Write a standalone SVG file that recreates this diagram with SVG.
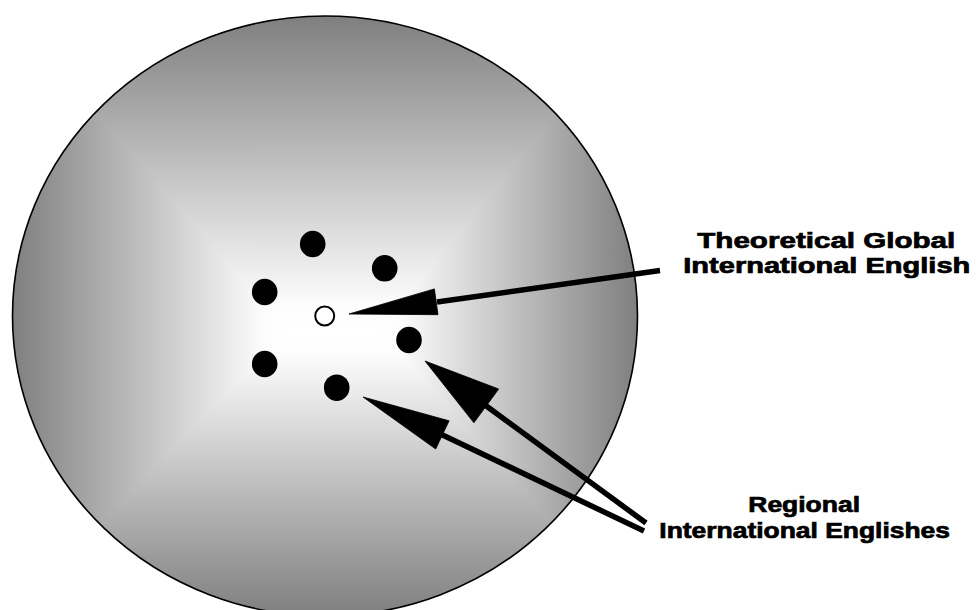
<svg xmlns="http://www.w3.org/2000/svg" width="976" height="610" viewBox="0 0 976 610">
  <style>
    .dot { fill: #000; }
    .shaft { stroke: #000; stroke-width: 5.5; fill: none; stroke-linecap: butt; }
    .head { fill: #000; stroke: #000; stroke-width: 0.8; stroke-linejoin: miter; }
    .lbl { font-family: "Liberation Sans", Arial, Helvetica, sans-serif; font-weight: bold; font-size: 21.5px; fill: #000; stroke: #000; stroke-width: 0.7; }
    .facet { stroke-width: 0.9; stroke-linejoin: round; }
  </style>
  <defs>
    <clipPath id="ellClip">
      <ellipse cx="325" cy="316" rx="312.5" ry="300"/>
    </clipPath>
    <radialGradient id="gBase" gradientUnits="userSpaceOnUse" cx="330" cy="331" r="310">
      <stop offset="0" stop-color="#ffffff"/>
      <stop offset="1" stop-color="#8a8a8a"/>
    </radialGradient>
    <linearGradient id="gTop" gradientUnits="userSpaceOnUse" x1="0" y1="331" x2="0" y2="16">
      <stop offset="0" stop-color="#ffffff"/>
      <stop offset="0.08" stop-color="#fdfdfd"/>
      <stop offset="1" stop-color="#7f7f7f"/>
    </linearGradient>
    <linearGradient id="gBottom" gradientUnits="userSpaceOnUse" x1="0" y1="331" x2="0" y2="616">
      <stop offset="0" stop-color="#ffffff"/>
      <stop offset="0.08" stop-color="#fdfdfd"/>
      <stop offset="1" stop-color="#7f7f7f"/>
    </linearGradient>
    <linearGradient id="gLeft" gradientUnits="userSpaceOnUse" x1="287" y1="0" x2="12" y2="0">
      <stop offset="0" stop-color="#ffffff"/>
      <stop offset="0.08" stop-color="#fdfdfd"/>
      <stop offset="1" stop-color="#7f7f7f"/>
    </linearGradient>
    <linearGradient id="gRight" gradientUnits="userSpaceOnUse" x1="378" y1="0" x2="638" y2="0">
      <stop offset="0" stop-color="#ffffff"/>
      <stop offset="0.08" stop-color="#fdfdfd"/>
      <stop offset="1" stop-color="#7f7f7f"/>
    </linearGradient>
  </defs>

  <g id="globe">
    <ellipse cx="325" cy="316" rx="312.5" ry="300" fill="url(#gBase)"/>
    <g clip-path="url(#ellClip)">
      <polygon class="facet" points="12,16 638,16 378,331 287,331" fill="url(#gTop)" stroke="url(#gTop)"/>
      <polygon class="facet" points="638,16 638,616 378,331" fill="url(#gRight)" stroke="url(#gRight)"/>
      <polygon class="facet" points="638,616 12,616 287,331 378,331" fill="url(#gBottom)" stroke="url(#gBottom)"/>
      <polygon class="facet" points="12,616 12,16 287,331" fill="url(#gLeft)" stroke="url(#gLeft)"/>
    </g>
    <ellipse cx="325" cy="316" rx="312.5" ry="300" fill="none" stroke="#000" stroke-width="1.6"/>
  </g>

  <g id="regional-dots">
    <ellipse class="dot" cx="312.7" cy="244" rx="12.8" ry="13.2"/>
    <ellipse class="dot" cx="384.7" cy="268.3" rx="12.8" ry="13.2"/>
    <ellipse class="dot" cx="264.7" cy="292" rx="12.8" ry="13.2"/>
    <ellipse class="dot" cx="264.7" cy="364" rx="12.8" ry="13.2"/>
    <ellipse class="dot" cx="409" cy="340" rx="12.8" ry="13.2"/>
    <ellipse class="dot" cx="336.7" cy="387.7" rx="12.8" ry="13.2"/>
  </g>

  <g id="global-center">
    <circle cx="324.7" cy="316" r="9.5" fill="#fff" stroke="#000" stroke-width="2"/>
  </g>

  <g id="connectors">
    <line class="shaft" x1="660" y1="270.5" x2="437" y2="302" stroke-width="5"/>
    <polygon class="head" points="349,314 434.4,288.9 438,314.7"/>

    <line class="shaft" x1="646" y1="523" x2="486" y2="405.7"/>
    <polygon class="head" points="425,361 498.7,389 473.9,422.8"/>

    <line class="shaft" x1="644" y1="531" x2="442" y2="434.7" stroke-width="5"/>
    <polygon class="head" points="363,397 449.1,420.8 435.7,449"/>
  </g>

  <g id="label-global">
    <text class="lbl" x="697.3" y="248.3" textLength="258" lengthAdjust="spacingAndGlyphs">Theoretical Global</text>
    <text class="lbl" x="683.3" y="273.3" textLength="287" lengthAdjust="spacingAndGlyphs">International English</text>
  </g>

  <g id="label-regional">
    <text class="lbl" x="748.3" y="511.7" textLength="111.7" lengthAdjust="spacingAndGlyphs">Regional</text>
    <text class="lbl" x="659.3" y="538.3" textLength="290.7" lengthAdjust="spacingAndGlyphs">International Englishes</text>
  </g>
</svg>
